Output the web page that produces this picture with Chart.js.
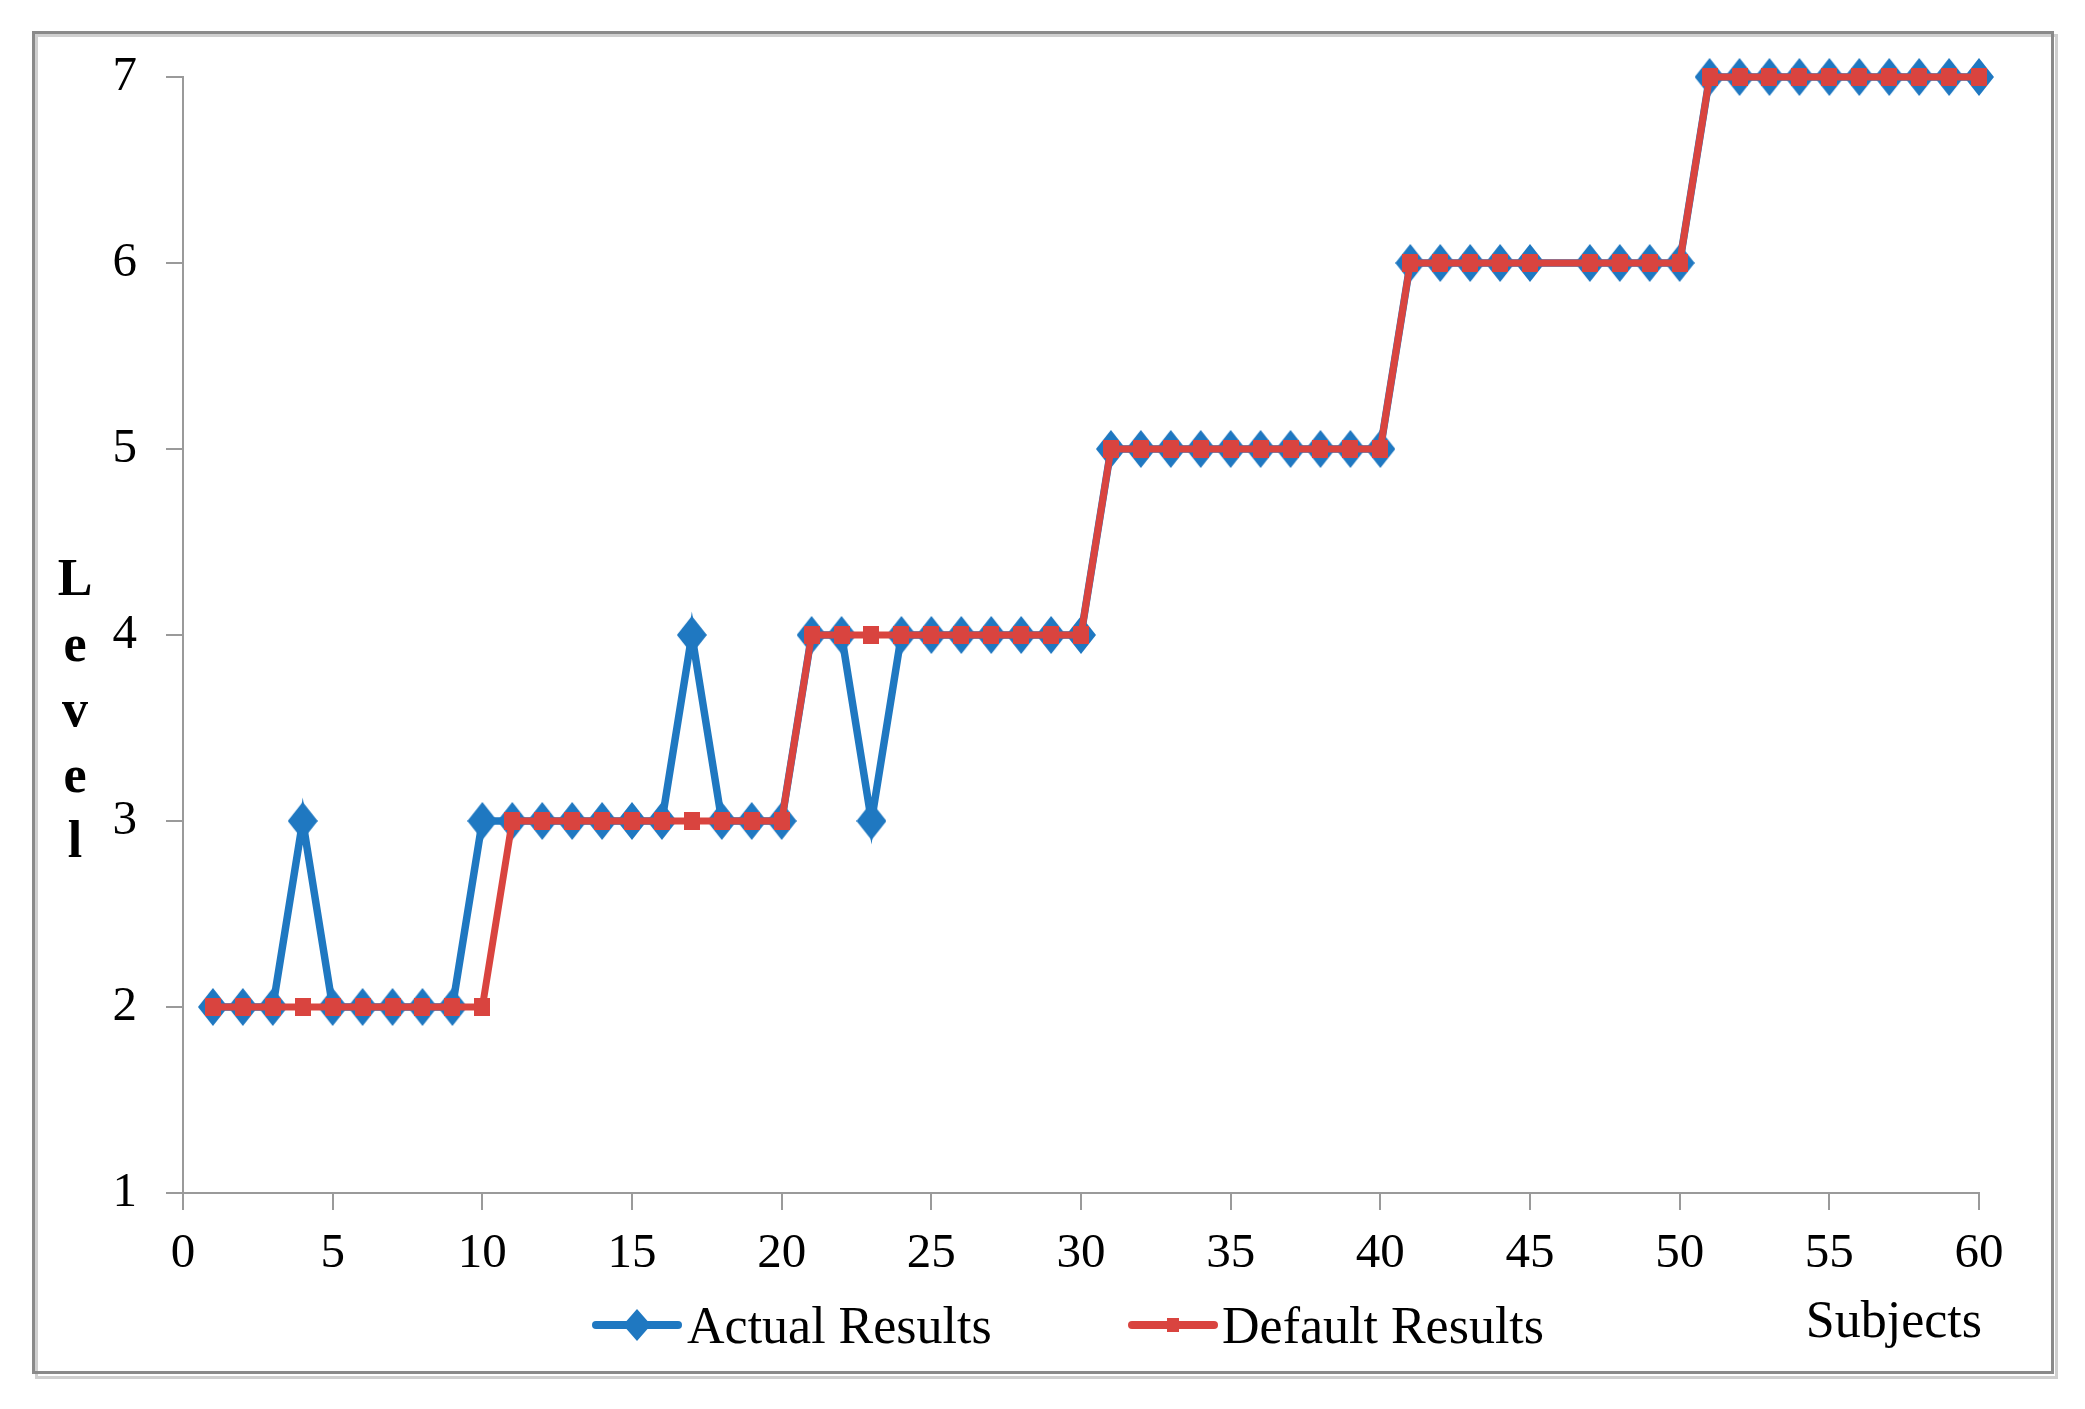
<!DOCTYPE html>
<html>
<head>
<meta charset="utf-8">
<script src="https://cdn.jsdelivr.net/npm/chart.js@4.4.1/dist/chart.umd.min.js"></script>
<style>
  html, body { margin: 0; padding: 0; background: #ffffff; }
  #wrap { position: relative; width: 2085px; height: 1409px; }
</style>
</head>
<body>
<div id="wrap"><canvas id="c"></canvas></div>
<script>
// ---- data ----
const subjects = [1,2,3,4,5,6,7,8,9,10,11,12,13,14,15,16,17,18,19,20,
                  21,22,23,24,25,26,27,28,29,30,31,32,33,34,35,36,37,38,39,40,
                  41,42,43,44,45,47,48,49,50,51,52,53,54,55,56,57,58,59,60];
const actualResults = [2,2,2,3,2,2,2,2,2,3,3,3,3,3,3,3,4,3,3,3,
                       4,4,3,4,4,4,4,4,4,4,5,5,5,5,5,5,5,5,5,5,
                       6,6,6,6,6,6,6,6,6,7,7,7,7,7,7,7,7,7,7];
const defaultResults = [2,2,2,2,2,2,2,2,2,2,3,3,3,3,3,3,3,3,3,3,
                        4,4,4,4,4,4,4,4,4,4,5,5,5,5,5,5,5,5,5,5,
                        6,6,6,6,6,6,6,6,6,7,7,7,7,7,7,7,7,7,7];
const seriesNames = ['Actual Results', 'Default Results'];
const yAxisTitle = 'Level';
const xAxisTitle = 'Subjects';

// ---- styles ----
const BLUE = '#1f78c1';
const RED = '#d9443f';
const AXIS = '#9a9a9a';
const FONT = '"Liberation Serif", "Times New Roman", serif';

function diamondImg(w, h, color) {
  const c = document.createElement('canvas');
  c.width = w; c.height = h;
  const g = c.getContext('2d');
  g.fillStyle = color;
  g.beginPath();
  g.moveTo(w / 2, 0); g.lineTo(w, h / 2); g.lineTo(w / 2, h); g.lineTo(0, h / 2);
  g.closePath(); g.fill();
  return c;
}
function squareImg(w, h, color) {
  const c = document.createElement('canvas');
  c.width = w; c.height = h;
  const g = c.getContext('2d');
  g.fillStyle = color;
  g.fillRect(0, 0, w, h);
  return c;
}
const blueDiamond = diamondImg(30, 38, BLUE);
const redSquare = squareImg(16, 18, RED);

const actualPts = subjects.map((s, i) => ({x: s, y: actualResults[i]}));
const defaultPts = subjects.map((s, i) => ({x: s, y: defaultResults[i]}));

const decorPlugin = {
  id: 'decor',
  beforeDraw(chart) {
    const ctx = chart.ctx;
    ctx.save();
    ctx.fillStyle = '#ffffff';
    ctx.fillRect(0, 0, chart.width, chart.height);
    // outer frame with slight shadow
    ctx.strokeStyle = '#cfcfcf';
    ctx.lineWidth = 3;
    ctx.strokeRect(36.5, 35.5, 2020, 1342);
    ctx.strokeStyle = '#8a8a8a';
    ctx.lineWidth = 3;
    ctx.strokeRect(33.5, 32.5, 2019, 1340);
    ctx.restore();
  },
  afterDraw(chart) {
    const ctx = chart.ctx;
    ctx.save();
    // vertical stacked y-axis title
    ctx.fillStyle = '#000';
    ctx.font = 'bold 52px ' + FONT;
    ctx.textAlign = 'center';
    ctx.textBaseline = 'alphabetic';
    const letters = yAxisTitle.split('');
    letters.forEach((ch, i) => ctx.fillText(ch, 75, 595 + i * 65.5));
    // legend
    ctx.font = '52px ' + FONT;
    ctx.textAlign = 'left';
    const items = [
      {name: seriesNames[0], color: BLUE, x0: 592, x1: 682, tx: 687, marker: 'diamond'},
      {name: seriesNames[1], color: RED, x0: 1128, x1: 1218, tx: 1222, marker: 'square'}
    ];
    items.forEach(it => {
      ctx.strokeStyle = it.color;
      ctx.lineWidth = 8;
      ctx.lineCap = 'round';
      ctx.beginPath();
      ctx.moveTo(it.x0 + 4, 1325); ctx.lineTo(it.x1 - 4, 1325);
      ctx.stroke();
      const cx = (it.x0 + it.x1) / 2;
      ctx.fillStyle = it.color;
      if (it.marker === 'diamond') {
        ctx.beginPath();
        ctx.moveTo(cx, 1309); ctx.lineTo(cx + 14, 1325); ctx.lineTo(cx, 1341); ctx.lineTo(cx - 14, 1325);
        ctx.closePath(); ctx.fill();
      } else {
        ctx.fillRect(cx - 6, 1318, 12, 14);
      }
      ctx.fillStyle = '#000';
      ctx.fillText(it.name, it.tx, 1343);
    });
    // x axis title at the right end
    ctx.textAlign = 'right';
    ctx.fillText(xAxisTitle, 1982, 1337);
    ctx.restore();
  }
};

new Chart(document.getElementById('c'), {
  type: 'line',
  data: {
    datasets: [
      {
        label: seriesNames[0],
        data: actualPts,
        borderColor: BLUE,
        backgroundColor: BLUE,
        borderWidth: 7.5,
        pointStyle: blueDiamond,
        pointRadius: 10,
        tension: 0,
        clip: false,
        order: 1
      },
      {
        label: seriesNames[1],
        data: defaultPts,
        borderColor: RED,
        backgroundColor: RED,
        borderWidth: 7,
        pointStyle: redSquare,
        pointRadius: 6,
        tension: 0,
        clip: false,
        order: 0
      }
    ]
  },
  options: {
    responsive: true,
    maintainAspectRatio: false,
    animation: false,
    events: [],
    layout: { padding: { left: 0, right: 106, top: 77, bottom: 0 } },
    plugins: {
      legend: { display: false },
      tooltip: { enabled: false },
      title: { display: false }
    },
    scales: {
      x: {
        type: 'linear',
        min: 0, max: 60,
        afterFit(scale) { scale.height = 216; scale.paddingLeft = 0; scale.paddingRight = 0; },
        ticks: { stepSize: 5, color: '#000', font: { family: FONT, size: 49 }, padding: 15, maxRotation: 0, autoSkip: false },
        grid: { display: true, drawOnChartArea: false, drawTicks: true, tickLength: 17, color: AXIS, lineWidth: 2 },
        border: { display: true, color: AXIS, width: 2 },
        title: { display: false }
      },
      y: {
        type: 'linear',
        min: 1, max: 7,
        afterFit(scale) { scale.width = 183; scale.paddingTop = 0; scale.paddingBottom = 0; },
        ticks: { stepSize: 1, color: '#000', font: { family: FONT, size: 49 }, padding: 29 },
        grid: { display: true, drawOnChartArea: false, drawTicks: true, tickLength: 17, color: AXIS, lineWidth: 2 },
        border: { display: true, color: AXIS, width: 2 },
        title: { display: false }
      }
    }
  },
  plugins: [decorPlugin]
});
</script>
</body>
</html>
